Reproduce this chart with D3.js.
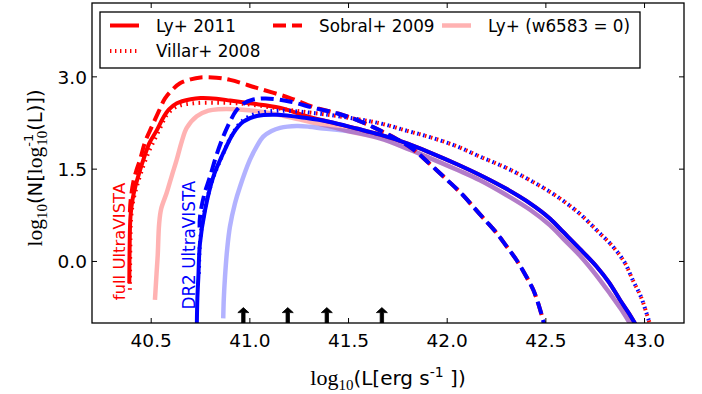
<!DOCTYPE html>
<html><head><meta charset="utf-8">
<script src="https://cdn.jsdelivr.net/npm/d3@7/dist/d3.min.js"></script>
<style>body{margin:0;background:#fff;} svg{display:block;font-family:"DejaVu Sans",sans-serif;}</style>
</head><body><svg id="c" width="702" height="394"></svg>
<script>
// ---- axes ----
const xDomain = [40.2, 43.2];
const yDomain = [-1.0, 4.2];
const xTicks = [40.5, 41.0, 41.5, 42.0, 42.5, 43.0];
const yTicks = [0.0, 1.5, 3.0];
const xTickLabels = ["40.5", "41.0", "41.5", "42.0", "42.5", "43.0"];
const yTickLabels = ["0.0", "1.5", "3.0"];
// ---- luminosity limits (arrows) ----
const arrowL = [40.967, 41.192, 41.39, 41.669];

// ---- Ly+ 2011 ----
const lyTail = [[41.40,2.27],[41.54,2.16],[41.66,2.06],[41.80,1.915],[41.913,1.77],[42.05,1.58],[42.166,1.405],[42.30,1.18],[42.42,0.945],[42.52,0.70],[42.588,0.48],[42.68,0.18],[42.758,-0.085],[42.82,-0.34],[42.876,-0.626],[42.92,-0.84],[42.965,-1.08]];
const lyFullHead = [[40.389,-0.355],[40.391,0.30],[40.395,0.73],[40.405,1.0],[40.42,1.22],[40.445,1.50],[40.46,1.65],[40.49,1.92],[40.528,2.13],[40.56,2.33],[40.59,2.47],[40.63,2.57],[40.70,2.635],[40.75,2.655],[40.83,2.645],[40.90,2.615],[41.00,2.57],[41.15,2.50],[41.28,2.37]];
const lyDR2Head = [[40.731,-1.08],[40.734,-0.6],[40.739,-0.25],[40.747,0.29],[40.773,0.836],[40.815,1.378],[40.865,1.758],[40.916,2.083],[40.967,2.271],[41.035,2.364],[41.136,2.385],[41.288,2.33]];
// ---- Ly+ (w6583 = 0) ----
const lyW0Tail = [[41.50,2.115],[41.659,2.0],[41.80,1.83],[41.913,1.68],[42.05,1.49],[42.166,1.32],[42.30,1.08],[42.42,0.84],[42.52,0.59],[42.588,0.37],[42.68,0.07],[42.75,-0.2],[42.82,-0.5],[42.88,-0.77],[42.94,-1.08]];
const lyW0FullHead = [[40.519,-0.626],[40.527,-0.2],[40.533,0.1],[40.54,0.6],[40.55,0.85],[40.579,1.12],[40.605,1.40],[40.629,1.65],[40.655,1.95],[40.68,2.17],[40.731,2.36],[40.79,2.45],[40.84,2.475],[40.933,2.475],[41.0,2.455],[41.12,2.40],[41.25,2.31],[41.40,2.20]];
const lyW0DR2Head = [[40.865,-0.924],[40.868,-0.6],[40.874,-0.25],[40.885,0.2],[40.899,0.565],[40.925,0.95],[40.95,1.215],[41.0,1.65],[41.035,1.87],[41.068,2.028],[41.11,2.12],[41.153,2.17],[41.237,2.2],[41.30,2.19],[41.372,2.16]];
// ---- Sobral+ 2009 ----
const sobralTail = [[41.45,2.40],[41.55,2.29],[41.659,2.13],[41.75,1.98],[41.828,1.82],[41.91,1.59],[41.998,1.33],[42.07,1.11],[42.132,0.89],[42.19,0.68],[42.251,0.46],[42.30,0.25],[42.352,0.02],[42.40,-0.24],[42.436,-0.46],[42.465,-0.72],[42.49,-1.0],[42.50,-1.1]];
const sobralFullHead = [[40.392,0.80],[40.396,1.0],[40.41,1.30],[40.425,1.48],[40.443,1.65],[40.47,1.95],[40.503,2.19],[40.54,2.45],[40.57,2.65],[40.61,2.80],[40.646,2.895],[40.70,2.96],[40.75,2.99],[40.83,2.985],[40.90,2.95],[41.035,2.82],[41.20,2.66],[41.33,2.50]];
const sobralDR2Head = [[40.745,0.55],[40.748,0.75],[40.77,1.10],[40.798,1.378],[40.83,1.72],[40.865,2.028],[40.90,2.28],[40.933,2.46],[40.97,2.57],[41.01,2.624],[41.08,2.65],[41.20,2.60],[41.33,2.49]];
// ---- Villar+ 2008 ----
const villarTail = [[41.45,2.36],[41.659,2.245],[41.80,2.12],[41.913,2.02],[42.05,1.87],[42.166,1.703],[42.30,1.52],[42.42,1.32],[42.55,1.07],[42.67,0.78],[42.76,0.50],[42.84,0.24],[42.90,-0.02],[42.94,-0.30],[42.98,-0.56],[43.01,-0.84],[43.035,-1.1]];
const villarFullHead = [[40.392,-0.46],[40.394,0.2],[40.398,0.7],[40.41,1.0],[40.43,1.25],[40.46,1.55],[40.49,1.80],[40.52,2.00],[40.55,2.20],[40.579,2.38],[40.629,2.515],[40.713,2.57],[40.832,2.58],[40.933,2.57],[41.05,2.53],[41.20,2.46],[41.33,2.41]];
const villarDR2Head = [[40.742,-0.2],[40.745,0.2],[40.755,0.55],[40.775,0.90],[40.81,1.32],[40.86,1.72],[40.91,2.06],[40.96,2.28],[41.03,2.40],[41.15,2.45],[41.33,2.41]];

const RED = "#ff0000", BLUE = "#0000ff";
const styles = {
  solid: {w: 4, dash: null},
  dashed: {w: 4, dash: "13,6"},
  dotted: {w: 4, dash: "1.6,4.6"},
  light: {w: 4.5, dash: null}
};
const series = [
  {pts: lyW0FullHead.concat(lyW0Tail), color: RED, st: "light", op: 0.3},
  {pts: lyW0DR2Head.concat(lyW0Tail), color: BLUE, st: "light", op: 0.3},
  {pts: lyFullHead.concat(lyTail), color: RED, st: "solid", op: 1},
  {pts: sobralFullHead.concat(sobralTail), color: RED, st: "dashed", op: 1},
  {pts: villarFullHead.concat(villarTail), color: RED, st: "dotted", op: 1},
  {pts: lyDR2Head.concat(lyTail), color: BLUE, st: "solid", op: 1},
  {pts: sobralDR2Head.concat(sobralTail), color: BLUE, st: "dashed", op: 1},
  {pts: villarDR2Head.concat(villarTail), color: BLUE, st: "dotted", op: 1}
];

const legendItems = [
  {label: "Ly+ 2011", st: "solid", op: 1, col: 0, row: 0},
  {label: "Sobral+ 2009", st: "dashed", op: 1, col: 1, row: 0},
  {label: "Ly+ (w6583 = 0)", st: "light", op: 0.3, col: 2, row: 0},
  {label: "Villar+ 2008", st: "dotted", op: 1, col: 0, row: 1}
];

const svg = d3.select("#c");
const L = 92, R = 684, T = 3, B = 323;
const x = d3.scaleLinear().domain(xDomain).range([L, R]);
const y = d3.scaleLinear().domain(yDomain).range([B, T]);

svg.append("defs").append("clipPath").attr("id", "clip")
  .append("rect").attr("x", L).attr("y", T).attr("width", R - L).attr("height", B - T);

const line = d3.line().x(d => x(d[0])).y(d => y(d[1])).curve(d3.curveCatmullRom.alpha(0.5));
const plot = svg.append("g").attr("clip-path", "url(#clip)");
series.forEach(s => {
  const p = plot.append("path").attr("d", line(s.pts)).attr("fill", "none")
    .attr("stroke", s.color).attr("stroke-width", styles[s.st].w)
    .attr("stroke-opacity", s.op).attr("stroke-linejoin", "round");
  if (styles[s.st].dash) p.attr("stroke-dasharray", styles[s.st].dash);
});

// arrows
const arrowBase = -1.0, arrowTip = -0.75;
arrowL.forEach(v => {
  const cx = x(v), yb = y(arrowBase), yt = y(arrowTip);
  const hw = 5.5, hh = 5, sw = 1.7;
  plot.append("path").attr("fill", "#000").attr("stroke", "#000").attr("stroke-width", 0.8)
    .attr("d", `M${cx-sw},${yb} L${cx-sw},${yt+hh} L${cx-hw},${yt+hh} L${cx},${yt} L${cx+hw},${yt+hh} L${cx+sw},${yt+hh} L${cx+sw},${yb} Z`);
});

// frame
svg.append("rect").attr("x", L).attr("y", T).attr("width", R - L).attr("height", B - T)
  .attr("fill", "none").attr("stroke", "#000").attr("stroke-width", 1.3);

// ticks (inside, all four sides)
const tk = 5;
xTicks.forEach((v, i) => {
  svg.append("line").attr("x1", x(v)).attr("x2", x(v)).attr("y1", B).attr("y2", B - tk).attr("stroke", "#000");
  svg.append("line").attr("x1", x(v)).attr("x2", x(v)).attr("y1", T).attr("y2", T + tk).attr("stroke", "#000");
  svg.append("text").attr("x", x(v)).attr("y", B + 24).attr("text-anchor", "middle")
    .attr("font-size", 18.5).text(xTickLabels[i]);
});
yTicks.forEach((v, i) => {
  svg.append("line").attr("x1", L).attr("x2", L + tk).attr("y1", y(v)).attr("y2", y(v)).attr("stroke", "#000");
  svg.append("line").attr("x1", R).attr("x2", R - tk).attr("y1", y(v)).attr("y2", y(v)).attr("stroke", "#000");
  svg.append("text").attr("x", L - 5).attr("y", y(v)).attr("dy", "0.36em").attr("text-anchor", "end")
    .attr("font-size", 18.5).text(yTickLabels[i]);
});

// axis labels
const serif = "Liberation Serif, DejaVu Serif, serif";
const xl = svg.append("text").attr("x", 388).attr("y", 385).attr("text-anchor", "middle").attr("font-size", 20);
xl.append("tspan").attr("font-family", serif).attr("font-size", 22).text("log");
xl.append("tspan").attr("font-family", serif).attr("font-size", 15).attr("dy", 5).text("10");
xl.append("tspan").attr("dy", -5).text("(L[erg s");
xl.append("tspan").attr("font-size", 14).attr("dy", -8).text("-1");
xl.append("tspan").attr("dy", 8).text(" ])");

const yl = svg.append("text").attr("transform", "translate(42,168) rotate(-90)").attr("text-anchor", "middle").attr("font-size", 19.5);
yl.append("tspan").attr("font-family", serif).attr("font-size", 21.5).text("log");
yl.append("tspan").attr("font-family", serif).attr("font-size", 15).attr("dy", 5).text("10");
yl.append("tspan").attr("dy", -5).text("(N[");
yl.append("tspan").attr("font-family", serif).attr("font-size", 21.5).text("log");
yl.append("tspan").attr("font-size", 13).attr("dy", -9).text("-1");
yl.append("tspan").attr("font-family", serif).attr("font-size", 15).attr("dx", -12).attr("dy", 14).text("10");
yl.append("tspan").attr("dy", -5).text("(L)])");

// annotations
svg.append("text").attr("transform", `translate(125,${y(-0.63)}) rotate(-90)`).attr("fill", RED)
  .attr("font-size", 16.5).text("full UltraVISTA");
svg.append("text").attr("transform", `translate(195,${y(-0.78)}) rotate(-90)`).attr("fill", BLUE)
  .attr("font-size", 16.8).text("DR2 UltraVISTA");

// legend
const lg = svg.append("g");
lg.append("rect").attr("x", 100).attr("y", 12).attr("width", 540).attr("height", 56)
  .attr("fill", "#fff").attr("stroke", "#000").attr("stroke-width", 1.3);
const colX = [110, 273, 442], rowY = [25.5, 51];
legendItems.forEach(it => {
  const x0 = colX[it.col], yy = rowY[it.row];
  const p = lg.append("line").attr("x1", x0).attr("x2", x0 + 29).attr("y1", yy).attr("y2", yy)
    .attr("stroke", RED).attr("stroke-width", styles[it.st].w).attr("stroke-opacity", it.op);
  if (styles[it.st].dash) p.attr("stroke-dasharray", it.st === "dotted" ? "1.4,3.6" : styles[it.st].dash);
  lg.append("text").attr("x", x0 + 46).attr("y", yy).attr("dy", "0.36em").attr("font-size", 16.8).text(it.label);
});
</script></body></html>
